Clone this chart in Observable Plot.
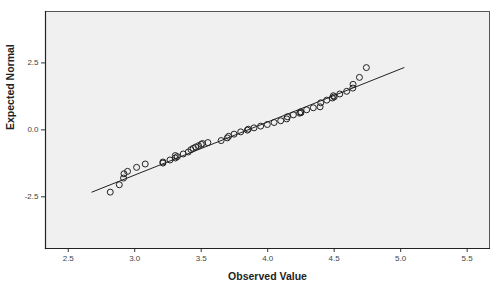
<!DOCTYPE html>
<html>
<head>
<meta charset="utf-8">
<script src="https://cdn.jsdelivr.net/npm/d3@7"></script>
<script src="https://cdn.jsdelivr.net/npm/@observablehq/plot@0.6"></script>
<style>
  html, body { margin: 0; padding: 0; background: #fff; }
  #chart svg { display: block; font-family: "Liberation Sans", Arial, sans-serif; }
</style>
</head>
<body>
<div id="chart"></div>
<script>
const observed = [2.816, 2.884, 2.916, 2.919, 2.946, 3.014, 3.079, 3.212, 3.212, 3.265,
  3.305, 3.305, 3.32, 3.365, 3.403, 3.423, 3.44, 3.458, 3.48, 3.50, 3.51, 3.55,
  3.65, 3.696, 3.706, 3.747, 3.797, 3.847, 3.854, 3.897, 3.947, 3.997,
  4.048, 4.098, 4.143, 4.148, 4.193, 4.24, 4.248, 4.25, 4.293, 4.343, 4.394, 4.399,
  4.444, 4.486, 4.494, 4.50, 4.542, 4.594, 4.64, 4.642, 4.69, 4.742];
const expected = [-2.325, -2.05, -1.80, -1.64, -1.55, -1.40, -1.275, -1.20, -1.24, -1.125,
  -1.05, -0.96, -1.0, -0.90, -0.825, -0.74, -0.69, -0.64, -0.59, -0.54, -0.51, -0.475,
  -0.40, -0.30, -0.24, -0.16, -0.075, -0.01, 0.025, 0.075, 0.14, 0.20,
  0.275, 0.34, 0.41, 0.49, 0.56, 0.625, 0.675, 0.64, 0.75, 0.825, 0.86, 1.01,
  1.11, 1.19, 1.275, 1.23, 1.34, 1.44, 1.56, 1.70, 1.96, 2.325];
// Reference line endpoints
const lineX = [2.678, 5.025];
const lineY = [-2.325, 2.325];
const xTicks = [2.5, 3.0, 3.5, 4.0, 4.5, 5.0, 5.5];
const yTicks = [-2.5, 0.0, 2.5];

const points = observed.map((x, i) => ({x, y: expected[i]}));
const refLine = lineX.map((x, i) => ({x, y: lineY[i]}));
const fmt = d => d.toFixed(1);

const chart = Plot.plot({
  width: 492,
  height: 284,
  marginLeft: 45,
  marginTop: 11,
  marginRight: 3,
  marginBottom: 36,
  style: {fontFamily: "'Liberation Sans', Arial, sans-serif", background: "#fff"},
  x: {domain: [2.329, 5.668], ticks: xTicks, tickFormat: fmt, label: null, tickSize: 4},
  y: {domain: [-4.43, 4.42], ticks: yTicks, tickFormat: fmt, label: null, tickSize: 4},
  marks: [
    Plot.frame({fill: "#f0f0f0", stroke: "#555", strokeWidth: 1}),
    Plot.axisX({ticks: xTicks, tickFormat: fmt, tickSize: 4, tickPadding: 3, fontSize: 8, fill: "#444", stroke: "#333", label: null}),
    Plot.axisY({ticks: yTicks, tickFormat: fmt, tickSize: 4, tickPadding: 3, fontSize: 8, fill: "#444", stroke: "#333", label: null}),
    Plot.frame({anchor: "left", stroke: "#222", strokeWidth: 1.2}),
    Plot.frame({anchor: "bottom", stroke: "#222", strokeWidth: 1.2}),
    Plot.line(refLine, {x: "x", y: "y", stroke: "#222", strokeWidth: 1}),
    Plot.dot(points, {x: "x", y: "y", r: 3, stroke: "#222", strokeWidth: 1, fill: "none"}),
    Plot.text(["Observed Value"], {frameAnchor: "bottom", dy: 31, fontSize: 10.5, fontWeight: "bold", fill: "#222"}),
    Plot.text(["Expected Normal"], {frameAnchor: "left", dx: -35, rotate: -90, fontSize: 10.5, fontWeight: "bold", fill: "#222"})
  ]
});
document.getElementById("chart").appendChild(chart);
</script>
</body>
</html>
